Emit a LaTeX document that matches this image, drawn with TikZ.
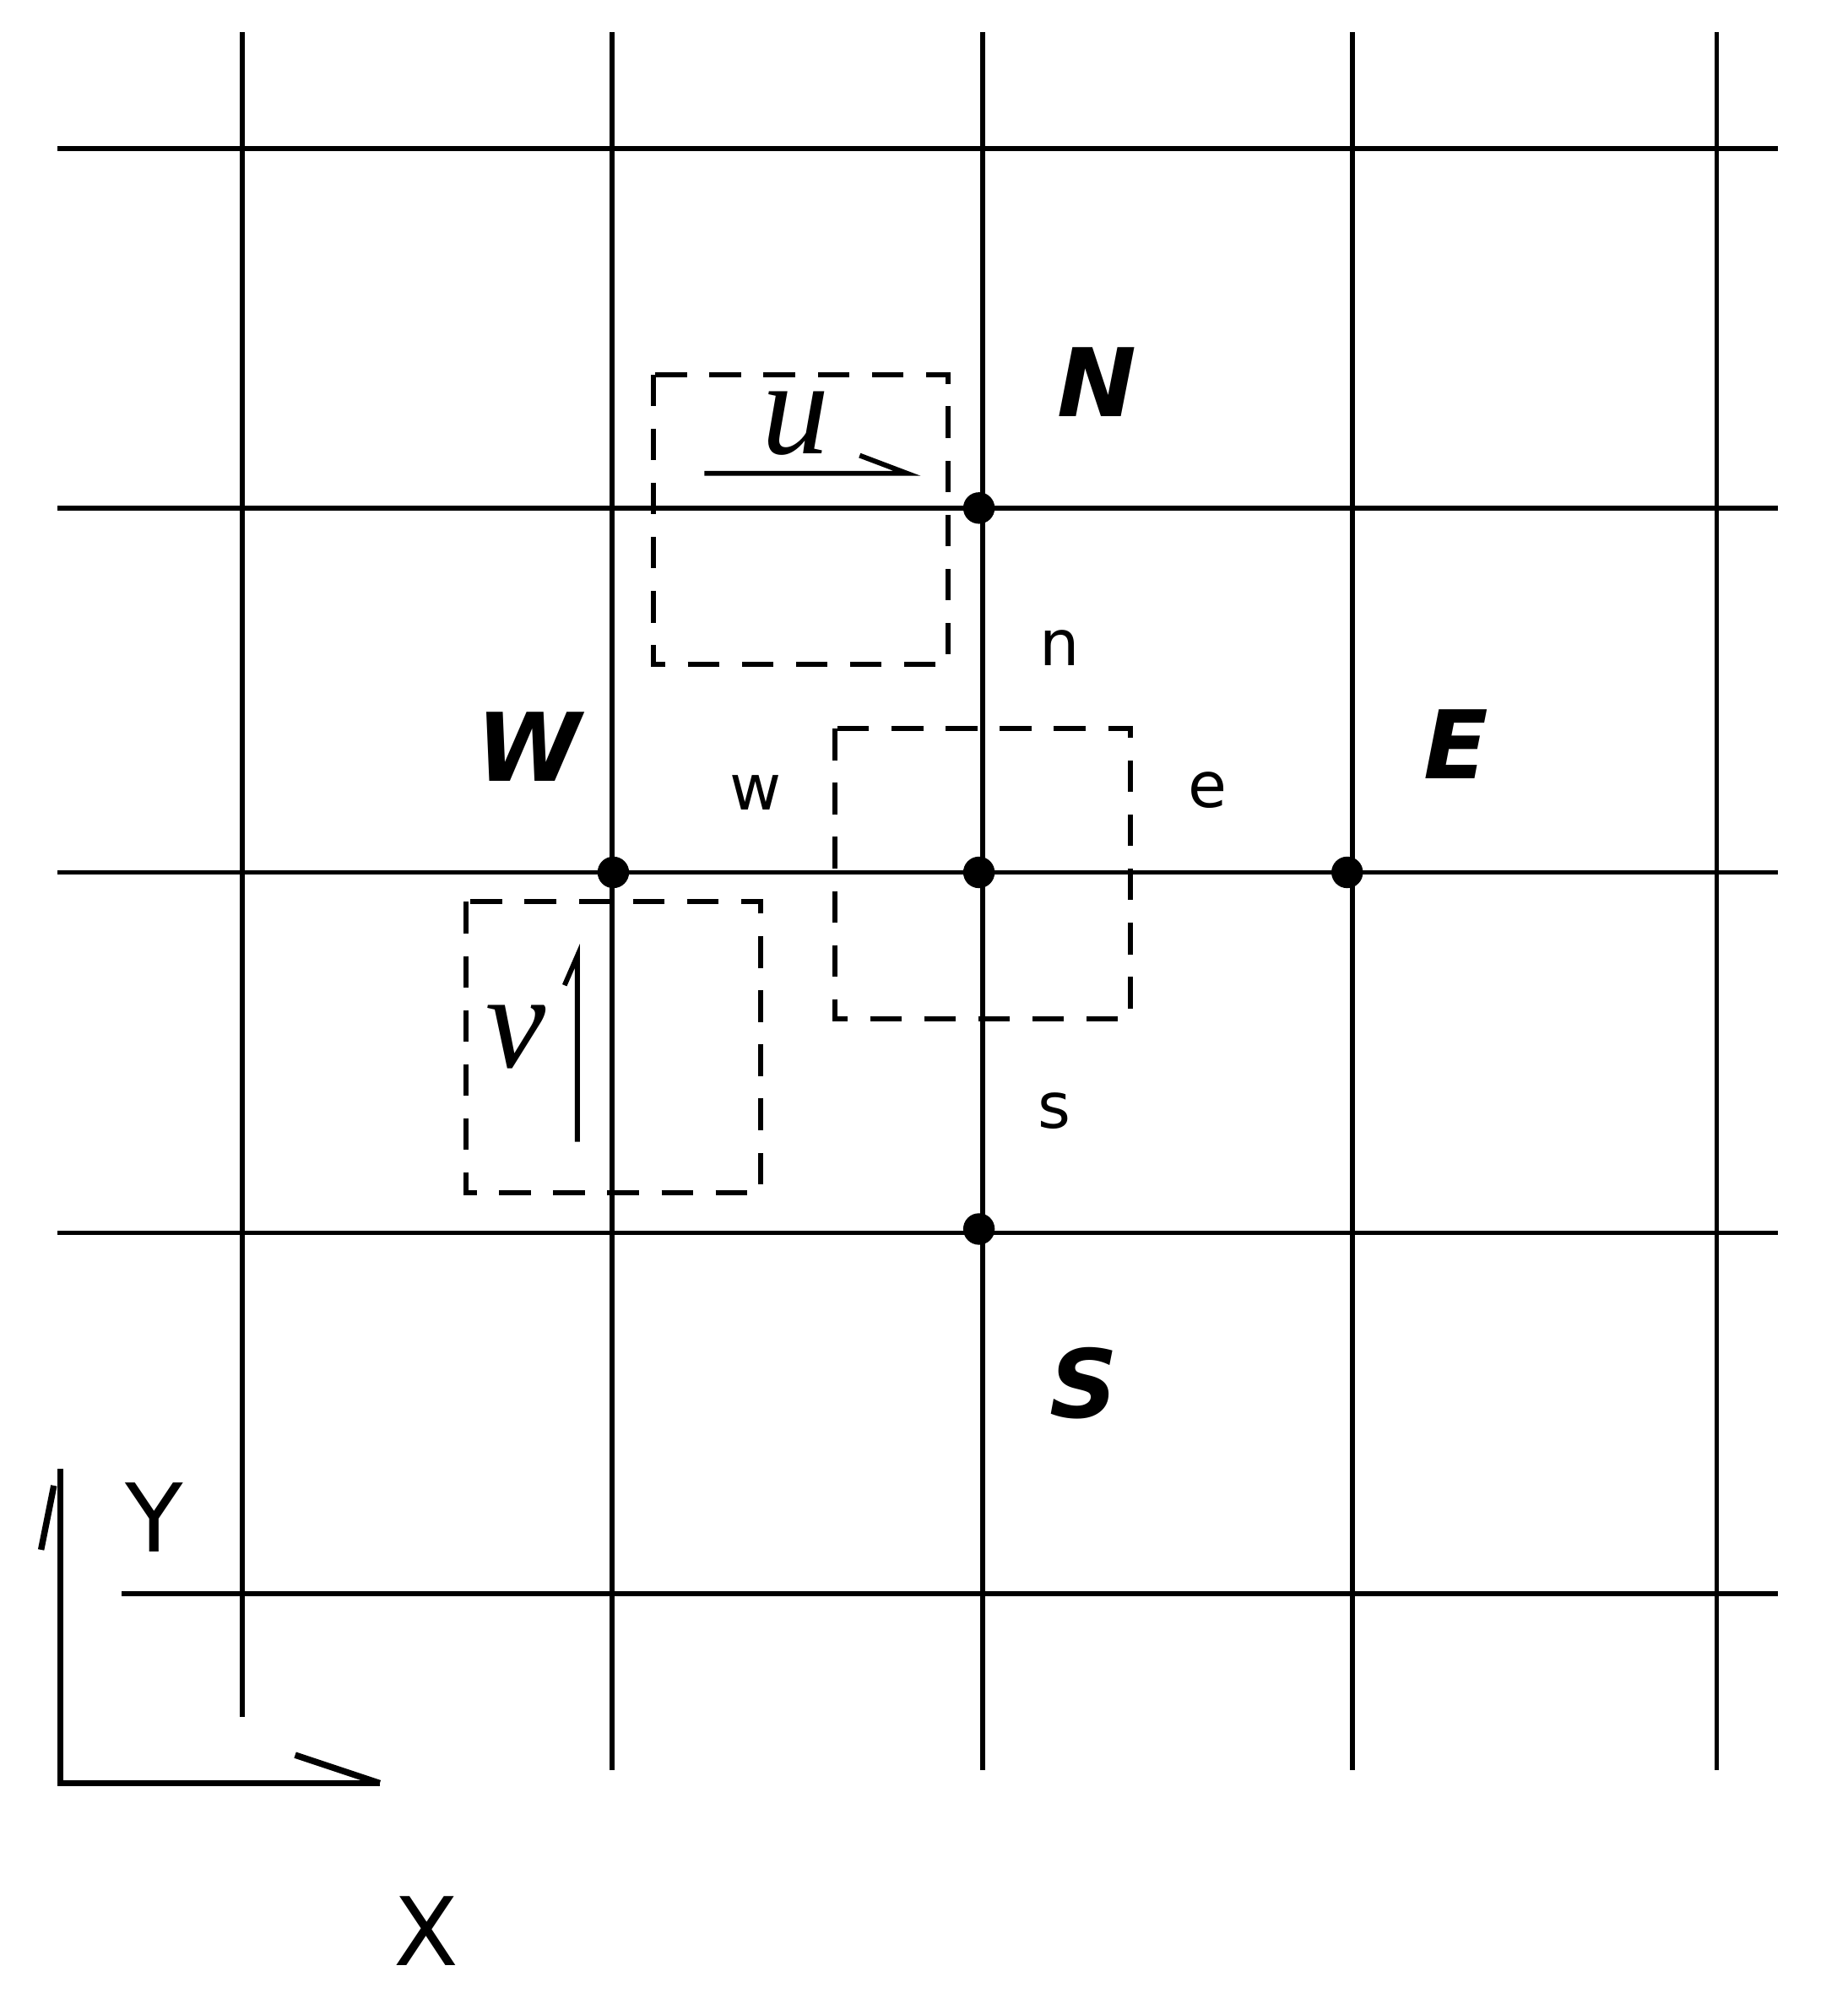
\documentclass[tikz,border=0pt]{standalone}
\usepackage{fontspec}
\setsansfont{DejaVu Sans}
\setmainfont{Liberation Serif}
\begin{document}
\begin{tikzpicture}[x=0.1mm,y=-0.1mm,
  grid/.style={line width=1.1pt},
  dbox/.style={line width=1.1pt,dash pattern=on 7pt off 5pt},
  big/.style={font=\sffamily\bfseries\itshape\fontsize{21}{21}\selectfont},
  small/.style={font=\sffamily\fontsize{14}{14}\selectfont},
  dot/.style={circle,fill=black,inner sep=0pt,minimum size=7pt}]
\useasboundingbox (0,0) rectangle (1440,1566);
\foreach \x in {477,766,1054,1338} \draw[grid] (\x,25) -- (\x,1380);
\draw[grid] (189,25) -- (189,1338);
\foreach \y in {116,396,680,961} \draw[grid] (45,\y) -- (1386,\y);
\draw[grid] (95,1242) -- (1386,1242);
\node[dot] (dN) at (763,396) {};
\node[dot] (dW) at (478,680) {};
\node[dot] (dP) at (763,680) {};
\node[dot] (dE) at (1050,680) {};
\node[dot] (dS) at (763,958) {};
\draw[dbox] (509,292) rectangle (739,518);
\draw[dbox] (651,568) rectangle (881,794);
\draw[dbox] (363,703) rectangle (593,930);
\node[big] (N) at (855,298) {N};
\node[big] (W) at (412,582) {W};
\node[big] (E) at (1135,580) {E};
\node[big] (S) at (845,1078) {S};
\node[small] (n) at (826,505) {n};
\node[small] (w) at (589,618) {w};
\node[small] (e) at (941,616) {e};
\node[small] (s) at (822,866) {s};
% u arrow
\coordinate (ua) at (549,369); \coordinate (ub) at (707,369);
\draw[grid] (ua) -- (ub) -- (670,355);
\node[font=\itshape\fontsize{30}{30}\selectfont] (u) at (620,330) {u};
% v arrow
\coordinate (va) at (450,890); \coordinate (vb) at (450,745);
\draw[grid] (va) -- (vb) -- (440,768);
\node[font=\itshape\fontsize{30}{30}\selectfont] (v) at (402,808) {v};
% axes
\coordinate (o) at (47,1390); \coordinate (yt) at (47,1145); \coordinate (xt) at (296,1390);
\draw[line width=1.4pt] (yt) -- (o) -- (xt);
\draw[line width=1.4pt] (xt) -- (230,1368);
\draw[line width=1.4pt] (42,1158) -- (32,1208);
\node[font=\sffamily\fontsize{21}{21}\selectfont] (Y) at (120,1183) {Y};
\node[font=\sffamily\fontsize{21}{21}\selectfont] (X) at (332,1505) {X};
\end{tikzpicture}
\end{document}
